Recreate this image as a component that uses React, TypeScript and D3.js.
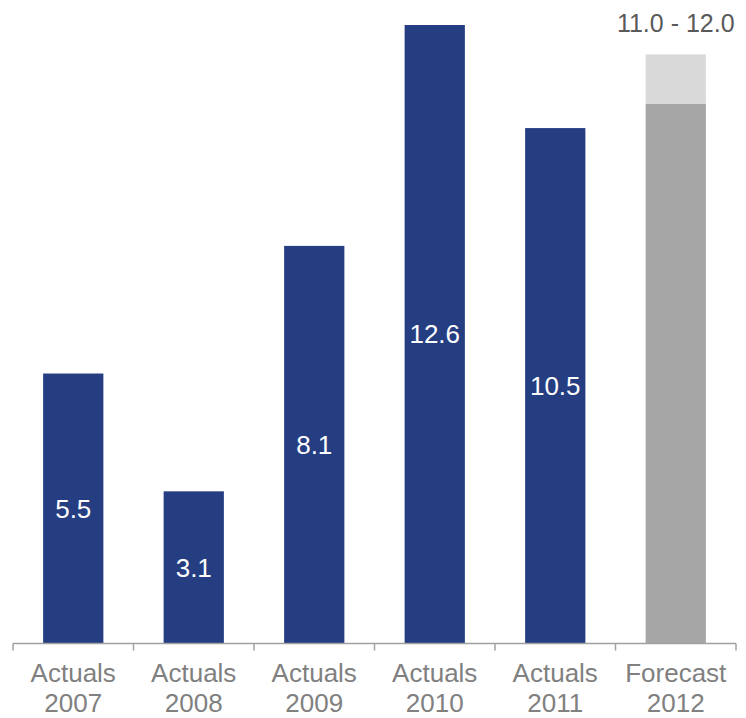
import React from "react";
import * as d3 from "d3";

const categoryTop = ["Actuals", "Actuals", "Actuals", "Actuals", "Actuals", "Forecast"];
const categoryYear = ["2007", "2008", "2009", "2010", "2011", "2012"];
const actualValues = [5.5, 3.1, 8.1, 12.6, 10.5];
const forecastLow = 11.0;
const forecastHigh = 12.0;
const forecastLabel = "11.0 - 12.0";

const W = 746;
const H = 718;
const FONT = "'Liberation Sans', Arial, sans-serif";

export default function App() {
  const x = d3
    .scaleBand<string>()
    .domain(categoryYear)
    .range([13, 736])
    .paddingInner(0.5)
    .paddingOuter(0.25);
  const y = d3.scaleLinear().domain([0, 12.6]).range([643.5, 25]);
  const step = x.step();
  const left = 13;
  const bw = x.bandwidth();
  const fx = x(categoryYear[5])!;

  return (
    <div style={{ position: "absolute", left: 0, top: 0 }}>
      <svg width={W} height={H} style={{ display: "block", fontFamily: FONT }}>
        <rect width={W} height={H} fill="#ffffff" />
        {actualValues.map((v, i) => {
          const bx = x(categoryYear[i])!;
          const top = y(v);
          return (
            <g key={i}>
              <rect x={bx} y={top} width={bw} height={y(0) - top} fill="#253E82" />
              <text
                x={bx + bw / 2}
                y={(top + y(0)) / 2}
                dy="0.35em"
                textAnchor="middle"
                fill="#ffffff"
                fontSize={26}
              >
                {v.toFixed(1)}
              </text>
            </g>
          );
        })}
        <rect x={fx} y={y(forecastLow)} width={bw} height={y(0) - y(forecastLow)} fill="#A6A6A6" />
        <rect
          x={fx}
          y={y(forecastHigh)}
          width={bw}
          height={y(forecastLow) - y(forecastHigh)}
          fill="#D9D9D9"
        />
        <text x={fx + bw / 2} y={32} textAnchor="middle" fill="#595959" fontSize={25}>
          {forecastLabel}
        </text>
        <line x1={left} x2={left + step * 6} y1={y(0)} y2={y(0)} stroke="#A0A0A0" strokeWidth={1.5} />
        {d3.range(7).map((i) => (
          <line
            key={i}
            x1={left + i * step}
            x2={left + i * step}
            y1={y(0)}
            y2={y(0) + 7}
            stroke="#A0A0A0"
            strokeWidth={1.5}
          />
        ))}
        {categoryYear.map((c, i) => {
          const cx = x(c)! + bw / 2;
          return (
            <g key={c}>
              <text x={cx} y={682} textAnchor="middle" fill="#808080" fontSize={26}>
                {categoryTop[i]}
              </text>
              <text x={cx} y={711.5} textAnchor="middle" fill="#808080" fontSize={26}>
                {c}
              </text>
            </g>
          );
        })}
      </svg>
    </div>
  );
}
